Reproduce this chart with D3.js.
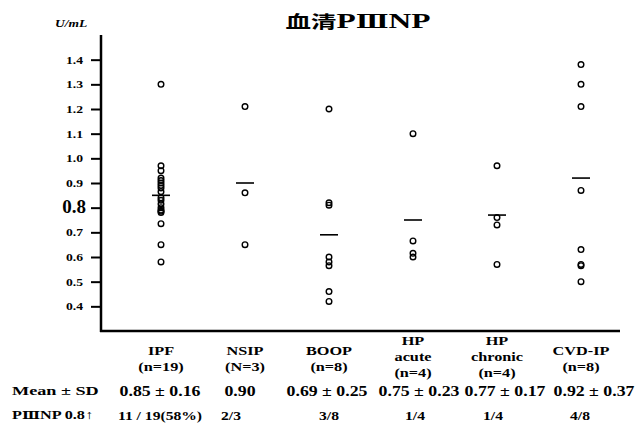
<!DOCTYPE html>
<html>
<head>
<meta charset="utf-8">
<script src="https://cdn.jsdelivr.net/npm/d3@7/dist/d3.min.js"></script>
<style>
  body { margin: 0; background: #fff; }
  svg text { font-family: "Liberation Serif", "Times New Roman", serif; font-weight: bold; fill: #000; }
</style>
</head>
<body>
<svg id="chart" width="644" height="444"></svg>
<script>
// categories and labels
var categories = ['IPF', 'NSIP', 'BOOP', 'HP acute', 'HP chronic', 'CVD-IP'];
var catLabels = [['IPF', '(n=19)'], ['NSIP', '(N=3)'], ['BOOP', '(n=8)'],
                 ['HP', 'acute', '(n=4)'], ['HP', 'chronic', '(n=4)'], ['CVD-IP', '(n=8)']];

// individual values (U/mL)
var ipfValues = [1.30, 0.97, 0.95, 0.92, 0.91, 0.90, 0.89, 0.88, 0.865,
                 0.84, 0.83, 0.815, 0.80, 0.79, 0.785, 0.78, 0.735, 0.65, 0.58];
var nsipValues = [1.21, 0.86, 0.65];
var boopValues = [1.20, 0.82, 0.81, 0.60, 0.58, 0.565, 0.46, 0.42];
var hpAcuteValues = [1.10, 0.665, 0.615, 0.60];
var hpChronicValues = [0.97, 0.76, 0.73, 0.57];
var cvdValues = [1.38, 1.30, 1.21, 0.87, 0.63, 0.57, 0.565, 0.50];
var groupValues = [ipfValues, nsipValues, boopValues, hpAcuteValues, hpChronicValues, cvdValues];

// group means (drawn as short bars) and table rows
var means = [0.85, 0.90, 0.69, 0.75, 0.77, 0.92];
var meanText = ['0.85 \u00b1 0.16', '0.90', '0.69 \u00b1 0.25', '0.75 \u00b1 0.23', '0.77 \u00b1 0.17', '0.92 \u00b1 0.37'];
var ratioText = ['11 / 19(58%)', '2/3', '3/8', '1/4', '1/4', '4/8'];

var yTicks = [0.4, 0.5, 0.6, 0.7, 0.8, 0.9, 1.0, 1.1, 1.2, 1.3, 1.4];

var svg = d3.select('#chart');

var x = d3.scalePoint().domain(categories).range([161, 581]);
var y = d3.scaleLinear().domain([0.3, 1.5]).range([331, 35]);

// the scan is stretched sideways, so text gets a horizontal scale
function stext(px, py, str, size, sx, anchor) {
    return svg.append('text')
        .attr('transform', 'translate(' + px + ',' + py + ') scale(' + sx + ',1)')
        .attr('text-anchor', anchor || 'start')
        .style('font-size', size + 'px')
        .text(str);
}

// title
var title = svg.append('text')
    .attr('transform', 'translate(358,28) scale(1.5,1)')
    .attr('text-anchor', 'middle');
title.append('tspan').text('\u8840\u6e05')
    .style('font-family', '"Noto Sans CJK SC", sans-serif')
    .style('font-size', '17px');
title.append('tspan').text('P').style('font-size', '21px');
title.append('tspan').text('\u2162')
    .style('font-family', '"DejaVu Serif", serif')
    .style('font-size', '18px');
title.append('tspan').text('NP').style('font-size', '21px');

// unit
stext(55, 27, 'U/mL', 10, 1.35).style('font-style', 'italic');

// y axis
var yAxis = d3.axisLeft(y)
    .tickValues(yTicks)
    .tickSize(10)
    .tickFormat(d3.format('.1f'));
var gy = svg.append('g').attr('transform', 'translate(101,0)').call(yAxis);
gy.select('.domain').remove();
gy.selectAll('.tick line').attr('stroke', '#000').attr('stroke-width', 2);
gy.selectAll('.tick text')
    .attr('x', 0)
    .attr('transform', function (d) { return d === 0.8 ? 'translate(-15,0)' : 'translate(-18,0) scale(1.3,1)'; })
    .style('font-family', '"Liberation Serif", serif')
    .style('font-size', function (d) { return d === 0.8 ? '19px' : '10.5px'; })
    .attr('dy', function (d) { return d === 0.8 ? '0.28em' : '0.32em'; });
svg.append('line')
    .attr('x1', 101).attr('x2', 101).attr('y1', 35).attr('y2', 332)
    .attr('stroke', '#000').attr('stroke-width', 2.5);

// bottom axis line
svg.append('line')
    .attr('x1', 100).attr('x2', 620).attr('y1', 331).attr('y2', 331)
    .attr('stroke', '#000').attr('stroke-width', 2.5);

// points
var groups = svg.selectAll('g.grp')
    .data(categories)
    .enter().append('g')
    .attr('class', 'grp');

groups.each(function (c, i) {
    var g = d3.select(this);
    g.append('line')
        .attr('x1', x(c) - 9).attr('x2', x(c) + 9)
        .attr('y1', y(means[i])).attr('y2', y(means[i]))
        .attr('stroke', '#000').attr('stroke-width', 1.6);
    g.selectAll('circle')
        .data(groupValues[i])
        .enter().append('circle')
        .attr('cx', x(c))
        .attr('cy', function (d) { return y(d); })
        .attr('r', 2.8)
        .attr('fill', 'none')
        .attr('stroke', '#000')
        .attr('stroke-width', 1.4);
});

// category labels
categories.forEach(function (c, i) {
    var lines = catLabels[i];
    var y0 = lines.length === 3 ? 345 : 355;
    lines.forEach(function (t, k) {
        stext(x(c), y0 + k * 16, t, 13, 1.25, 'middle');
    });
});

// table rows
stext(12, 395, 'Mean \u00b1 SD', 13, 1.4);
var rowLabel = svg.append('text')
    .attr('transform', 'translate(12,419) scale(1.35,1)')
    .style('font-size', '12px');
rowLabel.append('tspan').text('P');
rowLabel.append('tspan').text('\u2162')
    .style('font-family', '"DejaVu Serif", serif').style('font-size', '11px');
rowLabel.append('tspan').text('NP 0.8\u2191');

var meanShift = [-1, -5, -2, 6, 8, 13];
var ratioShift = [-1, -14, 0, 2, -4, -1];
categories.forEach(function (c, i) {
    stext(x(c) + meanShift[i], 396, meanText[i], 14, 1.27, 'middle');
    stext(x(c) + ratioShift[i], 420, ratioText[i], 12, 1.3, 'middle');
});
</script>
</body>
</html>
